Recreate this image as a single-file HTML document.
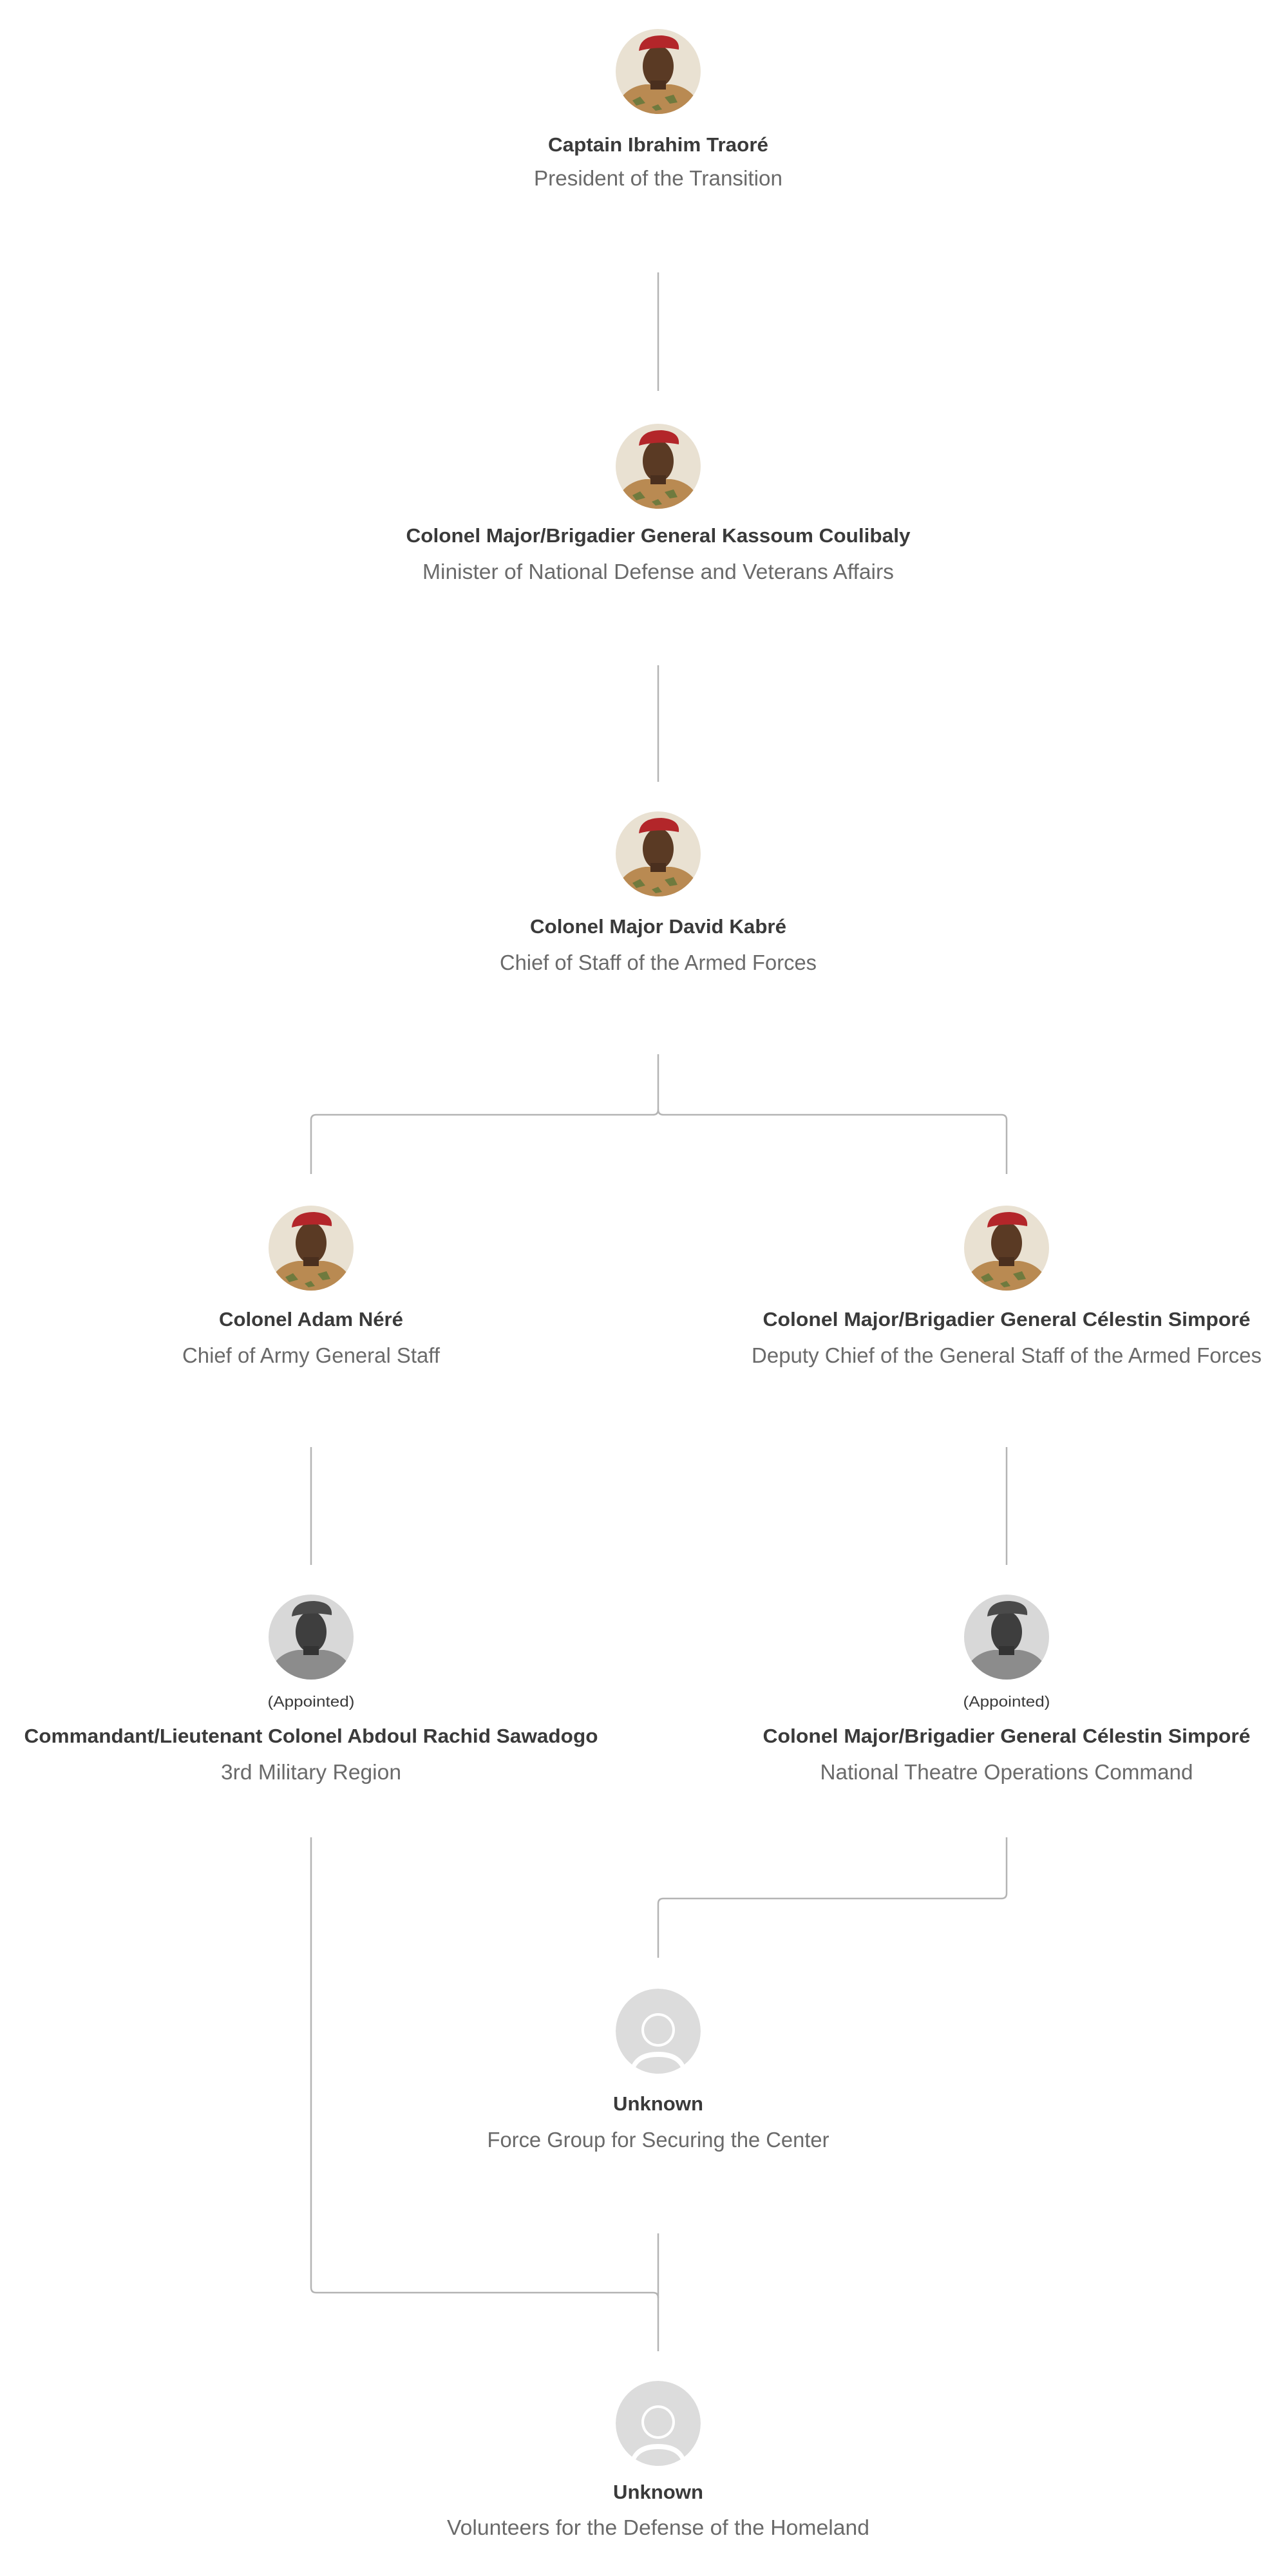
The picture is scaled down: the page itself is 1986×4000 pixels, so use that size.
<!DOCTYPE html>
<html><head><meta charset="utf-8"><style>
html,body{margin:0;padding:0;background:#fff;}
svg{display:block;}
.n{font-family:"Liberation Sans",sans-serif;font-weight:bold;font-size:31px;fill:#3a3a3a;}
.t{font-family:"Liberation Sans",sans-serif;font-size:33px;fill:#6a6a6a;}
.a{font-family:"Liberation Sans",sans-serif;font-size:23px;fill:#3a3a3a;}
.ln{fill:none;stroke:#b4b4b4;stroke-width:2.5;}
</style></head><body>
<svg width="1986" height="4000" viewBox="0 0 1986 4000" xmlns="http://www.w3.org/2000/svg">
<defs>
<clipPath id="c"><circle cx="0" cy="0" r="66"/></clipPath>
<g id="pc">
 <g clip-path="url(#c)">
  <rect x="-66" y="-66" width="132" height="132" fill="#e9e1d2"/>
  <path d="M-70 70 Q-60 25 -20 20 L20 20 Q60 25 70 70 Z" fill="#b98a52"/>
  <path d="M-40 45 l12 -6 l8 10 l-14 4z M10 40 l14 -4 l6 12 l-12 2z M-10 55 l10 -4 l6 8 l-10 2z" fill="#6f7a3e"/>
  <ellipse cx="0" cy="-8" rx="24" ry="32" fill="#5a3a24"/>
  <rect x="-12" y="14" width="24" height="14" fill="#4a2f1e"/>
  <path d="M-30 -32 Q-28 -56 5 -56 Q34 -54 32 -34 Q0 -40 -30 -32Z" fill="#b3262a"/>
 </g>
</g>
<g id="pg">
 <g clip-path="url(#c)">
  <rect x="-66" y="-66" width="132" height="132" fill="#d8d8d8"/>
  <path d="M-70 70 Q-60 25 -20 20 L20 20 Q60 25 70 70 Z" fill="#8c8c8c"/>
  <ellipse cx="0" cy="-8" rx="24" ry="32" fill="#3e3e3e"/>
  <rect x="-12" y="14" width="24" height="14" fill="#333"/>
  <path d="M-30 -32 Q-28 -56 5 -56 Q34 -54 32 -34 Q0 -40 -30 -32Z" fill="#4a4a4a"/>
 </g>
</g>
<g id="pu">
 <g clip-path="url(#c)">
  <circle cx="0" cy="0" r="66" fill="#dcdcdc"/>
  <path d="M-45 66 Q-40 32 0 32 Q40 32 45 66Z" fill="#fff"/>
  <path d="M-38 66 Q-34 40 0 40 Q34 40 38 66Z" fill="#dcdcdc"/>
  <circle cx="0" cy="-2" r="26" fill="#fff"/>
  <circle cx="0" cy="-2" r="22" fill="#dcdcdc"/>
 </g>
</g>
</defs>

<!-- connectors -->
<path class="ln" d="M1022 423 V607"/>
<path class="ln" d="M1022 1033 V1214"/>
<path class="ln" d="M1022 1637 V1723 q0 8 -8 8 H491 q-8 0 -8 8 V1823"/>
<path class="ln" d="M1022 1723 q0 8 8 8 H1555 q8 0 8 8 V1823"/>
<path class="ln" d="M483 2247 V2430"/>
<path class="ln" d="M1563 2247 V2430"/>
<path class="ln" d="M1563 2853 V2940 q0 8 -8 8 H1030 q-8 0 -8 8 V3040"/>
<path class="ln" d="M483 2853 V3552 q0 8 8 8 H1014 q8 0 8 8"/>
<path class="ln" d="M1022 3468 V3651"/>

<!-- N1 -->
<use href="#pc" x="1022" y="111"/>
<text class="n" x="1022" y="235" text-anchor="middle" textLength="342" lengthAdjust="spacingAndGlyphs">Captain Ibrahim Traoré</text>
<text class="t" x="1022" y="288" text-anchor="middle" textLength="386" lengthAdjust="spacingAndGlyphs">President of the Transition</text>

<!-- N2 -->
<use href="#pc" x="1022" y="724"/>
<text class="n" x="1022" y="842" text-anchor="middle" textLength="783" lengthAdjust="spacingAndGlyphs">Colonel Major/Brigadier General Kassoum Coulibaly</text>
<text class="t" x="1022" y="899" text-anchor="middle" textLength="732" lengthAdjust="spacingAndGlyphs">Minister of National Defense and Veterans Affairs</text>

<!-- N3 -->
<use href="#pc" x="1022" y="1326"/>
<text class="n" x="1022" y="1449" text-anchor="middle" textLength="398" lengthAdjust="spacingAndGlyphs">Colonel Major David Kabré</text>
<text class="t" x="1022" y="1506" text-anchor="middle" textLength="492" lengthAdjust="spacingAndGlyphs">Chief of Staff of the Armed Forces</text>

<!-- N4 left -->
<use href="#pc" x="483" y="1938"/>
<text class="n" x="483" y="2059" text-anchor="middle" textLength="286" lengthAdjust="spacingAndGlyphs">Colonel Adam Néré</text>
<text class="t" x="483" y="2116" text-anchor="middle" textLength="400" lengthAdjust="spacingAndGlyphs">Chief of Army General Staff</text>

<!-- N4 right -->
<use href="#pc" x="1563" y="1938"/>
<text class="n" x="1563" y="2059" text-anchor="middle" textLength="757" lengthAdjust="spacingAndGlyphs">Colonel Major/Brigadier General Célestin Simporé</text>
<text class="t" x="1563" y="2116" text-anchor="middle" textLength="792" lengthAdjust="spacingAndGlyphs">Deputy Chief of the General Staff of the Armed Forces</text>

<!-- N5 left -->
<use href="#pg" x="483" y="2542"/>
<text class="a" x="483" y="2650" text-anchor="middle" textLength="135" lengthAdjust="spacingAndGlyphs">(Appointed)</text>
<text class="n" x="483" y="2706" text-anchor="middle" textLength="891" lengthAdjust="spacingAndGlyphs">Commandant/Lieutenant Colonel Abdoul Rachid Sawadogo</text>
<text class="t" x="483" y="2763" text-anchor="middle" textLength="280" lengthAdjust="spacingAndGlyphs">3rd Military Region</text>

<!-- N5 right -->
<use href="#pg" x="1563" y="2542"/>
<text class="a" x="1563" y="2650" text-anchor="middle" textLength="135" lengthAdjust="spacingAndGlyphs">(Appointed)</text>
<text class="n" x="1563" y="2706" text-anchor="middle" textLength="757" lengthAdjust="spacingAndGlyphs">Colonel Major/Brigadier General Célestin Simporé</text>
<text class="t" x="1563" y="2763" text-anchor="middle" textLength="579" lengthAdjust="spacingAndGlyphs">National Theatre Operations Command</text>

<!-- Unknown 1 -->
<use href="#pu" x="1022" y="3154"/>
<text class="n" x="1022" y="3277" text-anchor="middle" textLength="140" lengthAdjust="spacingAndGlyphs">Unknown</text>
<text class="t" x="1022" y="3334" text-anchor="middle" textLength="531" lengthAdjust="spacingAndGlyphs">Force Group for Securing the Center</text>

<!-- Unknown 2 -->
<use href="#pu" x="1022" y="3763"/>
<text class="n" x="1022" y="3880" text-anchor="middle" textLength="140" lengthAdjust="spacingAndGlyphs">Unknown</text>
<text class="t" x="1022" y="3936" text-anchor="middle" textLength="656" lengthAdjust="spacingAndGlyphs">Volunteers for the Defense of the Homeland</text>
</svg>
</body></html>
